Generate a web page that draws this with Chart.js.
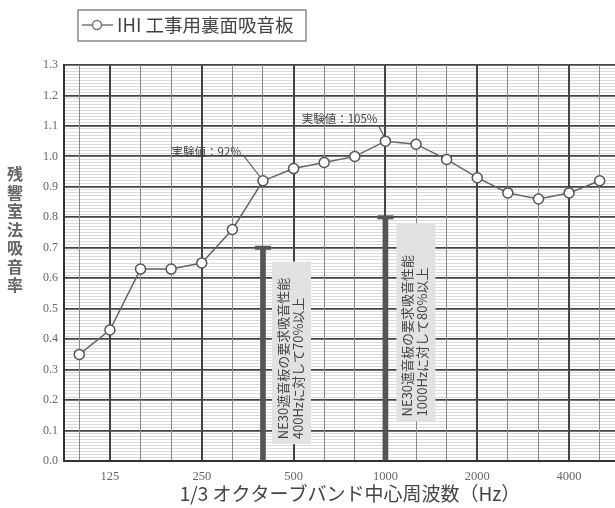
<!DOCTYPE html>
<html>
<head>
<meta charset="utf-8">
<script src="https://cdn.jsdelivr.net/npm/chart.js@4.4.1/dist/chart.umd.min.js"></script>
<style>
  html, body { margin: 0; padding: 0; background: #fff; }
</style>
</head>
<body>
<canvas id="absorptionChart" width="615" height="508"></canvas>
<script>
// 1/3 octave band centre frequencies (Hz)
const bands = ["100", "125", "160", "200", "250", "315", "400", "500", "630",
               "800", "1000", "1250", "1600", "2000", "2500", "3150", "4000", "5000"];
// measured absorption coefficient
const absorption = [0.35, 0.43, 0.63, 0.63, 0.65, 0.76, 0.92, 0.96, 0.98,
                    1.00, 1.05, 1.04, 0.99, 0.93, 0.88, 0.86, 0.88, 0.92];
// required performance marks (400Hz: 70%, 1000Hz: 80%)
const requirement = [null, null, null, null, null, null, 0.70, null, null,
                     null, 0.80, null, null, null, null, null, null, null];
const xTickLabels = ["125", "250", "500", "1000", "2000", "4000"];

const seriesName = "IHI 工事用裏面吸音板";
const yTitle = "残響室法吸音率";
const xTitle = "1/3 オクターブバンド中心周波数（Hz）";
const measuredNotes = ["実験値：92%", "実験値：105%"];
const requirementNotes = [
    ["NE30遮音板の要求吸音性能", "400Hzに対して70%以上"],
    ["NE30遮音板の要求吸音性能", "1000Hzに対して80%以上"],
];

const cjk = '"Noto Sans CJK JP", "Noto Sans", sans-serif';
const serif = '"Liberation Serif", "DejaVu Serif", serif';

function drawNote(ctx, left, top, bottom, lines) {
    ctx.fillStyle = "#e2e2e2";
    ctx.fillRect(left, top, 39, bottom - top);
    ctx.fillStyle = "#444";
    ctx.font = "13px " + cjk;
    ctx.textAlign = "left";
    ctx.textBaseline = "middle";
    lines.forEach((t, i) => {
        ctx.save();
        ctx.translate(left + 11 + i * 15, bottom - 5);
        ctx.rotate(-Math.PI / 2);
        ctx.fillText(t, 0, 0);
        ctx.restore();
    });
}

const decor = {
    id: "decor",
    afterDatasetsDraw(chart) {
        const { ctx } = chart;
        const x = chart.scales.x, y = chart.scales.y;
        ctx.save();

        // requirement boxes next to the 400Hz / 1000Hz bars
        const i400 = bands.indexOf("400"), i1k = bands.indexOf("1000");
        drawNote(ctx, x.getPixelForValue(i400) + 9, y.getPixelForValue(0.655),
                 y.getPixelForValue(0.055), requirementNotes[0]);
        drawNote(ctx, x.getPixelForValue(i1k) + 11, y.getPixelForValue(0.78),
                 y.getPixelForValue(0.13), requirementNotes[1]);

        // measured value callouts
        ctx.font = "11.5px " + cjk;
        ctx.fillStyle = "#444";
        ctx.strokeStyle = "#555";
        ctx.lineWidth = 1.2;
        ctx.textBaseline = "middle";
        ctx.textAlign = "right";
        const p1x = x.getPixelForValue(i400), p1y = y.getPixelForValue(absorption[i400]);
        ctx.fillText(measuredNotes[0], p1x - 22, p1y - 29);
        ctx.beginPath();
        ctx.moveTo(p1x - 20, p1y - 26);
        ctx.lineTo(p1x - 3, p1y - 4);
        ctx.stroke();

        const p2x = x.getPixelForValue(i1k), p2y = y.getPixelForValue(absorption[i1k]);
        ctx.fillText(measuredNotes[1], p2x - 8, p2y - 23);
        ctx.beginPath();
        ctx.moveTo(p2x - 7, p2y - 16);
        ctx.lineTo(p2x - 1, p2y - 4);
        ctx.stroke();
        ctx.restore();
    },
    afterDraw(chart) {
        const { ctx } = chart;
        ctx.save();
        // legend box
        ctx.fillStyle = "#fff";
        ctx.strokeStyle = "#888";
        ctx.lineWidth = 1.5;
        ctx.strokeRect(78, 10, 228, 31);
        ctx.strokeStyle = "#777";
        ctx.lineWidth = 1.5;
        ctx.beginPath();
        ctx.moveTo(82, 25);
        ctx.lineTo(113, 25);
        ctx.stroke();
        ctx.beginPath();
        ctx.arc(97, 25, 4.5, 0, Math.PI * 2);
        ctx.fill();
        ctx.stroke();
        ctx.fillStyle = "#444";
        ctx.font = "18.5px " + cjk;
        ctx.textAlign = "left";
        ctx.textBaseline = "middle";
        ctx.fillText(seriesName, 117, 25);

        // x-axis title
        ctx.font = "19px " + cjk;
        ctx.textAlign = "center";
        ctx.fillText(xTitle, 350, 494);

        // stacked vertical y-axis title
        ctx.font = "bold 16px " + cjk;
        ctx.fillStyle = "#666";
        Array.from(yTitle).forEach((ch, i) => ctx.fillText(ch, 15, 174 + i * 18.5));
        ctx.restore();
    }
};

const octaveSet = new Set(xTickLabels);

new Chart(document.getElementById("absorptionChart").getContext("2d"), {
    data: {
        labels: bands,
        datasets: [
            {
                type: "line",
                label: seriesName,
                data: absorption,
                borderColor: "#666",
                borderWidth: 1.5,
                pointRadius: 5,
                pointBackgroundColor: "#fff",
                pointBorderColor: "#555",
                pointBorderWidth: 1.5,
                tension: 0,
                order: 0,
            },
            {
                type: "line",
                label: "cap",
                data: requirement,
                showLine: false,
                pointStyle: "line",
                pointRadius: 8,
                pointBorderWidth: 4,
                pointBorderColor: "#555",
                order: 1,
            },
            {
                type: "bar",
                label: "requirement",
                data: requirement,
                backgroundColor: "#555",
                barThickness: 5,
                order: 2,
            },
        ],
    },
    plugins: [decor],
    options: {
        responsive: false,
        animation: false,
        layout: { autoPadding: false, padding: { left: 28, right: 0, top: 65, bottom: 0 } },
        plugins: {
            legend: { display: false },
            tooltip: { enabled: false },
        },
        scales: {
            x: {
                type: "category",
                offset: true,
                afterFit: (s) => { s.height = 47; },
                grid: {
                    offset: false,
                    drawTicks: false,
                    z: -1,
                    color: (c) => octaveSet.has(bands[c.index]) ? "#444" : "#888",
                    lineWidth: (c) => octaveSet.has(bands[c.index]) ? 2 : 1,
                },
                border: { color: "#333", width: 2 },
                ticks: {
                    autoSkip: false,
                    maxRotation: 0,
                    padding: 8,
                    color: "#666",
                    font: { family: serif, size: 12.5 },
                    callback: (v, i) => octaveSet.has(bands[i]) ? bands[i] : "",
                },
            },
            y: {
                min: 0,
                max: 1.3,
                afterFit: (s) => { s.width = 36; },
                grid: {
                    drawTicks: false,
                    z: -2,
                    color: (c) => Math.round(c.tick.value * 100) % 10 === 0 ? "#444" : "#dcdcdc",
                    lineWidth: (c) => Math.round(c.tick.value * 100) % 10 === 0 ? 1.8 : 1,
                },
                border: { color: "#333", width: 2 },
                ticks: {
                    stepSize: 0.01,
                    maxTicksLimit: 200,
                    autoSkip: false,
                    padding: 6,
                    color: "#666",
                    font: { family: serif, size: 12 },
                    callback: (v) => {
                        const k = Math.round(v * 100);
                        return k % 10 === 0 ? (k / 100).toFixed(1) : "";
                    },
                },
            },
        },
    },
});
</script>
</body>
</html>
